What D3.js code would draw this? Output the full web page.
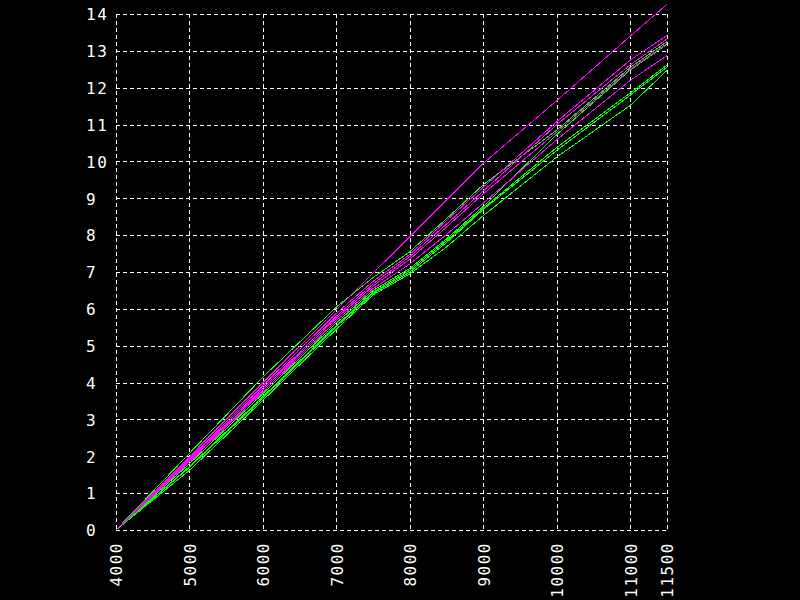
<!DOCTYPE html>
<html>
<head>
<meta charset="utf-8">
<script src="https://cdn.jsdelivr.net/npm/d3@7"></script>
<style>
html,body{margin:0;padding:0;background:#000;}
svg{display:block;}
</style>
</head>
<body>
<svg id="chart" width="800" height="600"></svg>
<script>
// ---- data ----
const xTicks = [4000, 5000, 6000, 7000, 8000, 9000, 10000, 11000, 11500];
const yTicks = [0, 1, 2, 3, 4, 5, 6, 7, 8, 9, 10, 11, 12, 13, 14];
const xValues = [4000, 5000, 6000, 7000, 7500, 8000, 8500, 9000, 10000, 11000, 11500];

const magentaSeries = [
  [0, 2.00, 4.00, 5.98, 6.97, 7.96, 8.95, 9.95, 11.65, 13.40, 14.26],
  [0, 1.95, 3.92, 5.88, 6.75, 7.48, 8.40, 9.30, 11.08, 12.75, 13.42],
  [0, 1.92, 3.85, 5.80, 6.68, 7.42, 8.30, 9.20, 11.00, 12.62, 13.32],
  [0, 1.88, 3.80, 5.75, 6.62, 7.35, 8.22, 9.12, 10.80, 12.50, 13.20],
  [0, 1.85, 3.75, 5.68, 6.55, 7.22, 8.02, 8.87, 10.59, 12.20, 12.87]
];
const greenSeries = [
  [0, 2.08, 4.15, 6.05, 6.85, 7.55, 8.45, 9.37, 10.85, 12.55, 13.25],
  [0, 1.80, 3.70, 5.62, 6.50, 7.10, 7.90, 8.78, 10.73, 12.48, 13.18],
  [0, 1.72, 3.62, 5.55, 6.45, 7.05, 7.85, 8.73, 10.38, 11.86, 12.61],
  [0, 1.70, 3.58, 5.52, 6.42, 7.00, 7.80, 8.70, 10.30, 11.80, 12.56],
  [0, 1.62, 3.52, 5.45, 6.38, 6.95, 7.68, 8.53, 10.12, 11.52, 12.47]
];

// ---- layout ----
const svg = d3.select("#chart");
svg.append("rect").attr("width", 800).attr("height", 600).attr("fill", "#000");

const mLeft = 116, mRight = 667, mTop = 14, mBottom = 530;
const x = d3.scaleLinear().domain([4000, 11500]).range([mLeft, mRight]);
const y = d3.scaleLinear().domain([0, 14]).range([mBottom, mTop]);

const font = "'DejaVu Sans Mono', monospace";

// grid
const grid = svg.append("g")
  .attr("stroke", "#fff").attr("stroke-width", 1)
  .attr("stroke-dasharray", "4,3").attr("shape-rendering", "crispEdges");
grid.selectAll("line.v").data(xTicks).enter().append("line")
  .attr("class", "v")
  .attr("x1", d => Math.round(x(d)) + 0.5).attr("x2", d => Math.round(x(d)) + 0.5)
  .attr("y1", y(14)).attr("y2", y(0));
grid.selectAll("line.h").data(yTicks).enter().append("line")
  .attr("class", "h")
  .attr("y1", d => Math.round(y(d)) + 0.5).attr("y2", d => Math.round(y(d)) + 0.5)
  .attr("x1", x(4000)).attr("x2", x(11500));

// y labels
const yAxis = d3.axisLeft(y).tickValues(yTicks).tickSize(0).tickFormat(d3.format("d"));
const gy = svg.append("g").attr("transform", `translate(86,0)`).call(yAxis);
gy.select(".domain").remove();
gy.selectAll("text")
  .attr("x", 0).attr("text-anchor", "start")
  .attr("fill", "#fff").attr("font-family", font).attr("font-size", 16)
  .attr("letter-spacing", "1.5px").attr("dy", "0.36em");

// x labels (rotated)
const xAxis = d3.axisBottom(x).tickValues(xTicks).tickSize(0).tickFormat(d3.format("d"));
const gx = svg.append("g").attr("transform", `translate(0,542)`).call(xAxis);
gx.select(".domain").remove();
gx.selectAll("text")
  .attr("y", 0).attr("x", 0).attr("dy", "0.36em")
  .attr("transform", "rotate(-90)")
  .attr("text-anchor", "end")
  .attr("fill", "#fff").attr("font-family", font).attr("font-size", 16)
  .attr("letter-spacing", "1.5px");

// lines
const line = d3.line().x((d, i) => x(xValues[i])).y(d => y(d));
const lines = svg.append("g").attr("fill", "none").attr("stroke-width", 1)
  .attr("shape-rendering", "crispEdges");
lines.selectAll("path.g").data(greenSeries).enter().append("path")
  .attr("class", "g").attr("d", line).attr("stroke", "#00ff00");
lines.selectAll("path.m").data(magentaSeries).enter().append("path")
  .attr("class", "m").attr("d", line).attr("stroke", "#ff00ff");
</script>
</body>
</html>
